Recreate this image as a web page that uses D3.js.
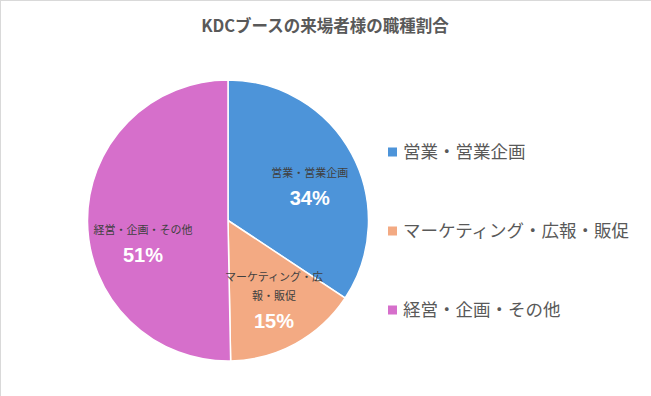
<!DOCTYPE html>
<html>
<head>
<meta charset="utf-8">
<script src="https://cdn.jsdelivr.net/npm/d3@7"></script>
<style>
  body { margin: 0; background: #fff; }
  svg { display: block; font-family: "Noto Sans CJK JP", "Liberation Sans", sans-serif; }
</style>
</head>
<body>
<div id="chart"></div>
<script>
const title = "KDCブースの来場者様の職種割合";
const categories = ["営業・営業企画", "マーケティング・広報・販促", "経営・企画・その他"];
const labelLines = [["営業・営業企画"], ["マーケティング・広", "報・販促"], ["経営・企画・その他"]];
// slice sizes as measured from the pie, percent labels as printed on it
const values = [34.3, 15.4, 50.3];
const pctLabels = ["34%", "15%", "51%"];
const colors = ["#4d94d9", "#f3aa83", "#d66fcb"];

const W = 651, H = 396;
const cx = 228, cy = 220.5, R = 140.5;
// small nudges so labels land where the original put them
const nudges = [[5, 9], [4, 5], [2, 24]];

const svg = d3.select("#chart").append("svg")
    .attr("width", W)
    .attr("height", H);

svg.append("rect")
    .attr("x", 0.5).attr("y", 0.5)
    .attr("width", W + 5).attr("height", H + 5)
    .attr("fill", "#fff")
    .attr("stroke", "#d9d9d9");

svg.append("text")
    .attr("x", 325)
    .attr("y", 32)
    .attr("text-anchor", "middle")
    .attr("font-size", "16.5px")
    .attr("font-weight", "bold")
    .attr("fill", "#595959")
    .text(title);

const pie = d3.pie().sort(null).value(d => d);
const arcs = pie(values);
const arc = d3.arc().innerRadius(0).outerRadius(R);
const labelArc = d3.arc().innerRadius(R * 0.62).outerRadius(R * 0.62);

const g = svg.append("g").attr("transform", "translate(" + cx + "," + cy + ")");

g.selectAll("path")
    .data(arcs)
    .enter()
    .append("path")
    .attr("d", arc)
    .attr("fill", (d, i) => colors[i])
    .attr("stroke", "#fff")
    .attr("stroke-width", 1.5);

arcs.forEach((d, i) => {
    const c = labelArc.centroid(d);
    const x = c[0] + nudges[i][0];
    const y = c[1] + nudges[i][1];
    const lines = labelLines[i];
    const lh = 19;
    const top = y - (lines.length * lh + 26) / 2;
    lines.forEach((ln, j) => {
        g.append("text")
            .attr("x", x)
            .attr("y", top + j * lh + 11)
            .attr("text-anchor", "middle")
            .attr("font-size", "11px")
            .attr("fill", "#404040")
            .text(ln);
    });
    g.append("text")
        .attr("x", x)
        .attr("y", top + lines.length * lh + 20)
        .attr("text-anchor", "middle")
        .attr("font-family", "'Liberation Sans', Arial, sans-serif")
        .attr("font-size", "20px")
        .attr("font-weight", "bold")
        .attr("fill", "#fff")
        .text(pctLabels[i]);
});

const legendY = d3.scalePoint().domain(categories).range([152, 310]);
const legend = svg.append("g");
categories.forEach((c, i) => {
    const y = legendY(c);
    legend.append("rect")
        .attr("x", 388).attr("y", y - 4.5)
        .attr("width", 9).attr("height", 9)
        .attr("fill", colors[i]);
    legend.append("text")
        .attr("x", 403)
        .attr("y", y)
        .attr("dy", "0.36em")
        .attr("font-size", "17.5px")
        .attr("fill", "#595959")
        .text(c);
});
</script>
</body>
</html>
